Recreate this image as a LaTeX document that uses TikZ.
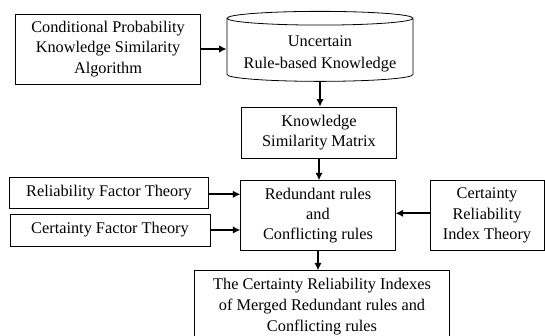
\documentclass[tikz,border=0pt]{standalone}
\usepackage{fontspec}
\setmainfont{Liberation Serif}
\usetikzlibrary{shapes.geometric}
\usetikzlibrary{arrows.meta}

\begin{document}
\begin{tikzpicture}[x=1pt,y=-1pt,
	box/.style={draw, line width=0.8pt, align=center, inner sep=0pt, font=\fontsize{16.3}{20.3}\selectfont},
	flow/.style={-{Latex[length=7.5pt,width=7.5pt]}, line width=1.7pt}]
	\useasboundingbox (0,0) rectangle (545,336);
	\node [box, minimum width=185, minimum height=70] (cpksa) at (108,49) {Conditional Probability\\Knowledge Similarity\\Algorithm};
	\node [box, font=\fontsize{16.3}{22.3}\selectfont, cylinder, shape border rotate=90, aspect=0.09, minimum width=186, minimum height=70, text height=41pt] (ukb) at (320,50) {Uncertain\\Rule-based Knowledge};
	\node [box, minimum width=154.5, minimum height=51.3] (ksm) at (319,132.7) {Knowledge\\Similarity Matrix};
	\node [box, minimum width=154.5, minimum height=70] (rrcr) at (318,215.7) {Redundant rules\\and\\Conflicting rules};
	\node [box, minimum width=199, minimum height=31] (rft) at (109,192.8) {Reliability Factor Theory};
	\node [box, minimum width=200, minimum height=32] (cft) at (110,230) {Certainty Factor Theory};
	\node [box, minimum width=114, minimum height=70.7] (crit) at (487,215.4) {Certainty\\Reliability\\Index Theory};
	\node [box, font=\fontsize{16.3}{21}\selectfont, minimum width=255, minimum height=72] (cri) at (322,306.7) {The Certainty Reliability Indexes\\of Merged Redundant rules and\\Conflicting rules};
	\draw [flow] ([yshift=-1.5]rft.east) -- ([yshift=-1.5]rft.east -| rrcr.west);
	\draw [flow] (cft.east) -- (cft.east -| rrcr.west);
	\draw [flow] ([yshift=2.1]crit.west) -- ([yshift=2.1]crit.west -| rrcr.east);
	\draw [flow] (cpksa.east) -- (cpksa.east -| ukb.west);
	\draw [flow] (ukb.south) -- (ukb.south |- ksm.north);
	\draw [flow] (ksm.south) -- (ksm.south |- rrcr.north);
	\draw [flow] (rrcr.south) -- (rrcr.south |- cri.north);
\end{tikzpicture}
\end{document}
